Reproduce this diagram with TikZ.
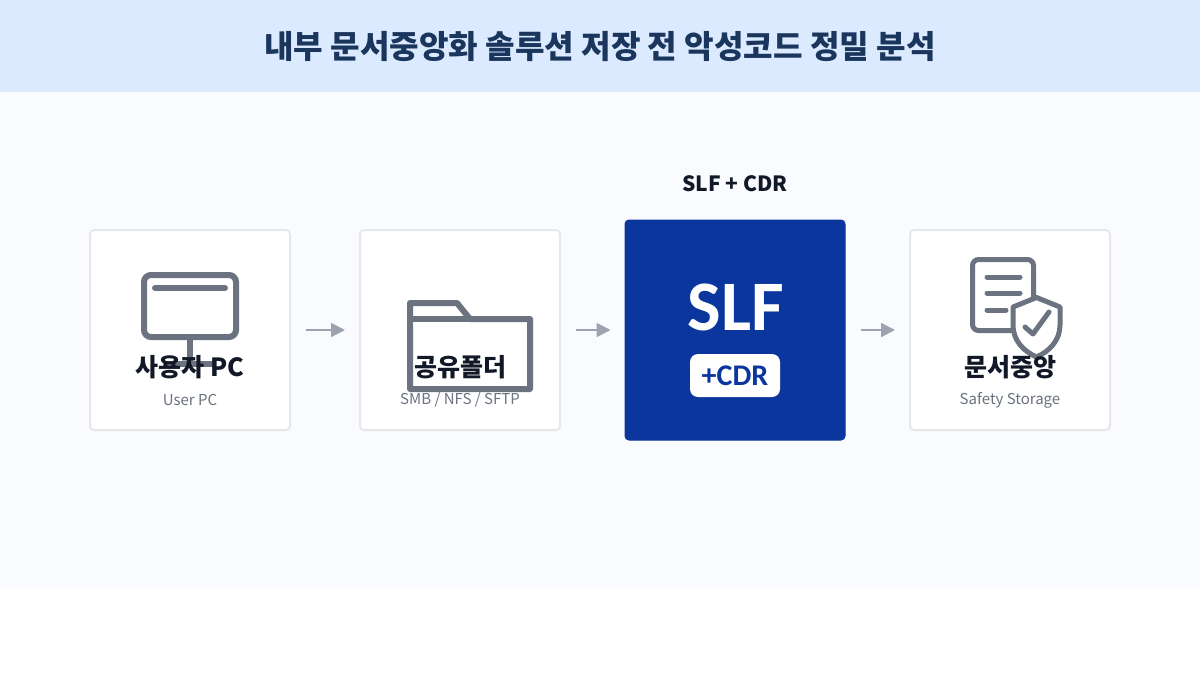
\documentclass[tikz,border=0pt]{standalone}
\usepackage{fontspec}
\setmainfont{Noto Sans CJK KR}
\newfontfamily\logofont{Carlito}
\usetikzlibrary{arrows.meta}
\definecolor{hdr}{HTML}{DBEAFE}
\definecolor{panel}{HTML}{FAFBFF}
\definecolor{ttl}{HTML}{1A365D}
\definecolor{edge}{HTML}{E5E7EB}
\definecolor{ink}{HTML}{111827}
\definecolor{subt}{HTML}{6B7280}
\definecolor{arr}{HTML}{9CA3AF}
\definecolor{navy}{HTML}{0A369D}
\newcommand{\fs}[1]{\fontsize{#1}{#1}\selectfont}
\tikzset{
  cardbox/.style={draw=edge,line width=2pt,fill=white,rounded corners=4pt,minimum width=200pt,minimum height=200pt,inner sep=0pt},
  icon/.style={draw=subt,line width=6pt},
  iconthin/.style={draw=subt,line width=5pt,line cap=round,line join=round},
  flow/.style={draw=arr,line width=2pt,-{Triangle[length=14pt,width=14pt]},shorten <=15pt,shorten >=14pt},
  cardname/.style={text=ink,font=\bfseries\fs{25},inner sep=0pt},
  subname/.style={text=subt,font=\fs{15},inner sep=0pt}
}
\begin{document}
\begin{tikzpicture}[x=1pt,y=-1pt]
\useasboundingbox (0,0) rectangle (1200,675);
\fill[white] (0,0) rectangle (1200,675);
\fill[panel] (0,92) rectangle (1200,588);
\fill[hdr] (0,0) rectangle (1200,92);
\node[text=ttl,font=\fs{32.1}\bfseries,inner sep=0pt] (title) at (600,46) {내부 문서중앙화 솔루션 저장 전 악성코드 정밀 분석};
\node[cardbox] (pc) at (190,330) {};
\node[cardbox] (share) at (460,330) {};
\node[draw=navy,fill=navy,line width=1pt,rounded corners=4pt,minimum width=220pt,minimum height=220pt,inner sep=0pt] (slf) at (735,330) {};
\node[cardbox] (store) at (1010,330) {};
\draw[flow] (pc) -- (share);
\draw[flow] (share) -- (slf);
\draw[flow] (slf) -- (store);
% PC icon
\draw[icon,rounded corners=7pt] (144,275) rectangle (236,337);
\draw[icon,line cap=round] (155,288) -- (225,288);
\draw[icon] (190,337) -- (190,364);
\draw[icon] (165,364) -- (215,364);
% folder icon
\draw[icon,line join=round] (410,389) -- (410,303) -- (457,303) -- (470,319) -- (530,319) -- (530,389) -- cycle;
\draw[icon] (410,319) -- (530,319);
% document and shield icon
\draw[iconthin,rounded corners=6pt] (972.5,259.5) rectangle (1033.5,330.5);
\draw[iconthin] (987,277) -- (1020,277);
\draw[iconthin] (987,293) -- (1020,293);
\draw[iconthin] (987,310) -- (1006,310);
\draw[iconthin,fill=white] (1036.5,297.5) -- (1060,307) -- (1060,325) .. controls (1060,340) and (1050,351) .. (1036.5,357) .. controls (1023,351) and (1013,340) .. (1013,325) -- (1013,307) -- cycle;
\draw[iconthin] (1025,327) -- (1033,334) -- (1049,312);
% texts
\node[cardname] (pcname) at (190,367) {사용자 PC};
\node[subname] (pcsub) at (190,400) {User PC};
\node[cardname] (sharename) at (460,367) {공유폴더};
\node[subname] (sharesub) at (460,400) {SMB / NFS / SFTP};
\node[cardname] (storename) at (1010,367) {문서중앙};
\node[subname] (storesub) at (1010,400) {Safety Storage};
\node[text=ink,font=\bfseries\fs{21},inner sep=0pt] (slfhead) at (735,184) {SLF + CDR};
\node[text=white,font=\logofont\bfseries\fs{71},inner sep=0pt,anchor=base] (slfname) at (736,330) {SLF};
\node[fill=white,rounded corners=8pt,minimum width=90pt,minimum height=43pt,inner sep=0pt,text=navy,font=\logofont\bfseries\fs{30}] (cdr) at (735,375.5) {+CDR};
\end{tikzpicture}
\end{document}
